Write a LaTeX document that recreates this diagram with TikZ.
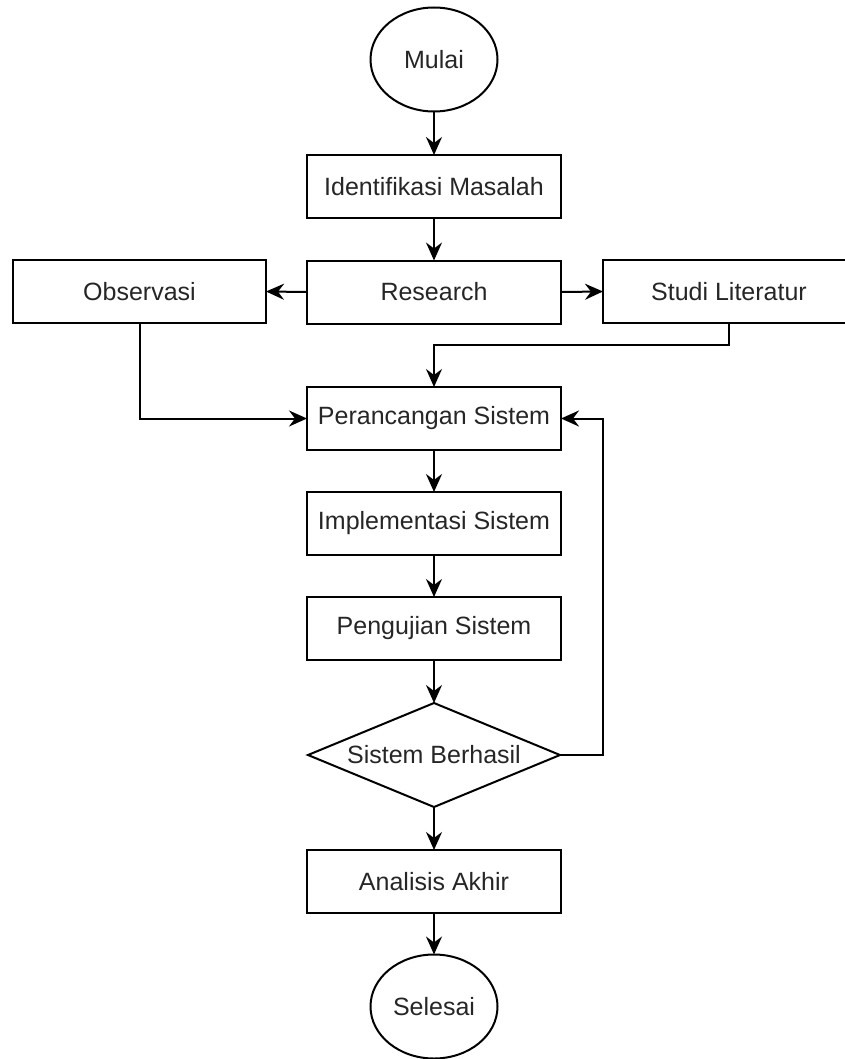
\documentclass[tikz,border=0pt]{standalone}
\usepackage{fontspec}
\setmainfont{Liberation Sans}
\usetikzlibrary{shapes.geometric,arrows.meta}
\begin{document}
\begin{tikzpicture}[x=1pt,y=-1pt,
  every node/.style={font=\fontsize{25}{30}\selectfont, text=black!85},
  box/.style={draw, line width=2pt, rectangle, minimum width=254pt, minimum height=63pt, inner sep=0pt, outer sep=0pt},
  term/.style={draw, line width=2pt, ellipse, minimum width=127pt, minimum height=104pt, inner sep=0pt, outer sep=0pt},
  dec/.style={draw, line width=2pt, diamond, minimum width=252pt, minimum height=104pt, inner sep=0pt, outer sep=0pt},
  conn/.style={line width=2pt, -{Stealth[length=18pt,width=16pt,inset=6pt]}}]
\useasboundingbox (0,0) rectangle (845,1059);
\clip (0,0) rectangle (845,1059);
\node[term] (mulai) at (434,59.5) {Mulai};
\node[box] (ident) at (434,186.5) {Identifikasi Masalah};
\node[box] (research) at (434,292) {Research};
\node[box, minimum width=253pt] (obs) at (139.5,291.5) {Observasi};
\node[box, minimum width=252pt] (studi) at (729,291.5) {Studi Literatur};
\node[box] (peranc) at (434,418.5) {Perancangan Sistem};
\node[box] (impl) at (434,523.5) {Implementasi Sistem};
\node[box] (uji) at (434,628.5) {Pengujian Sistem};
\node[dec, label={center:Sistem Berhasil}] (berhasil) at (434,755) {};
\node[box] (analisis) at (434,881.5) {Analisis Akhir};
\node[term] (selesai) at (434,1006.5) {Selesai};
\coordinate (sj) at (434,345);
\coordinate (fb) at (603,418.5);
\draw[conn] (mulai.south) -- (ident.north);
\draw[conn] (ident.south) -- (research.north);
\draw[conn] (research.west) -- (obs.east);
\draw[conn] (research.east) -- (studi.west);
\draw[conn] (obs.south) |- (peranc.west);
\draw[conn] (studi.south) |- (sj) -- (peranc.north);
\draw[conn] (peranc.south) -- (impl.north);
\draw[conn] (impl.south) -- (uji.north);
\draw[conn] (uji.south) -- (berhasil.north);
\draw[conn] (berhasil.east) -| (fb) -- (peranc.east);
\draw[conn] (berhasil.south) -- (analisis.north);
\draw[conn] (analisis.south) -- (selesai.north);
\end{tikzpicture}
\end{document}
